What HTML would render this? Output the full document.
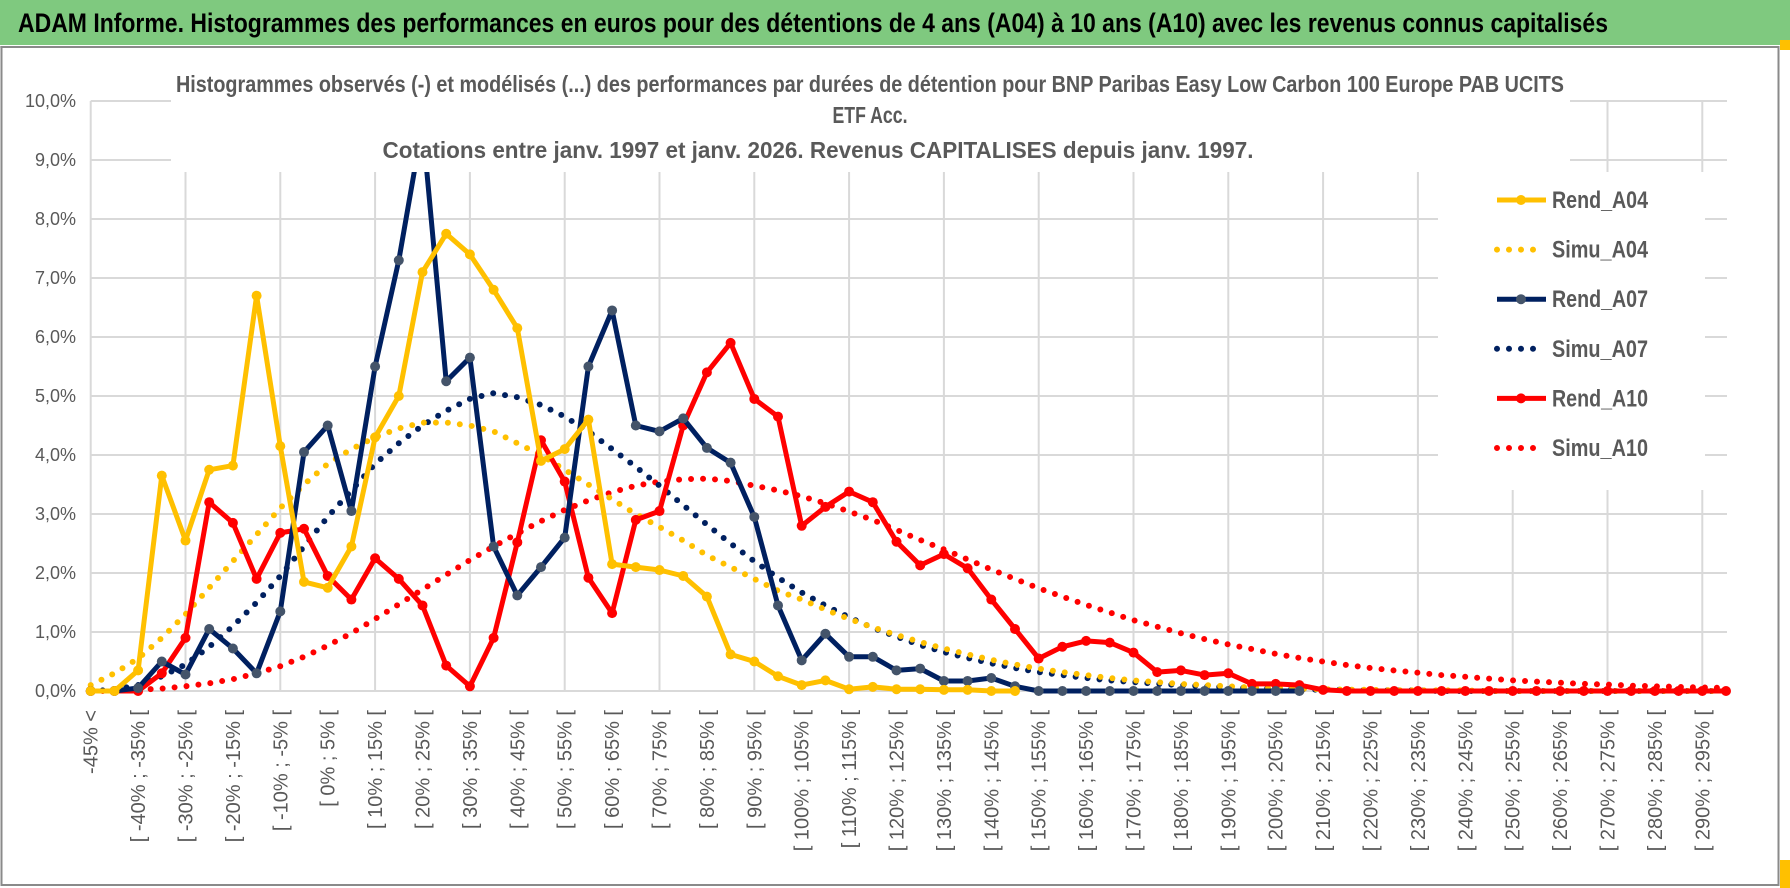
<!DOCTYPE html>
<html><head><meta charset="utf-8"><style>
html,body{margin:0;padding:0;background:#fff;}
svg{display:block;font-family:"Liberation Sans Narrow","Liberation Sans",sans-serif;}
</style></head><body>
<svg id="chart" width="1790" height="888" viewBox="0 0 1790 888" xmlns="http://www.w3.org/2000/svg">
<rect x="0" y="0" width="1790" height="888" fill="#fff"/>
<rect x="0" y="0" width="1790" height="45" fill="#7fc97f"/>
<text x="18" y="32" font-size="27" font-weight="bold" fill="#000" textLength="1590" lengthAdjust="spacingAndGlyphs">ADAM Informe. Histogrammes des performances en euros pour des détentions de 4 ans (A04) à 10 ans (A10) avec les revenus connus capitalisés</text>
<line x1="0" y1="47" x2="1778" y2="47" stroke="#d0d0d0" stroke-width="2"/>
<rect x="1.5" y="47" width="1777" height="838" fill="none" stroke="#8a8a8a" stroke-width="2"/>
<rect x="1780" y="860" width="10" height="28" fill="#ffc000"/>
<rect x="1780" y="40" width="10" height="10" fill="#ffc000"/>
<g id="grid"></g>
<g id="ylabels"></g>
<g id="xlabels"></g>
<g id="series"></g>
<rect x="171" y="52" width="1399" height="120" fill="#fff"/>
<g fill="#595959" font-weight="bold" font-size="23" text-anchor="middle">
<text x="870" y="92" textLength="1388" lengthAdjust="spacingAndGlyphs">Histogrammes observés (-) et modélisés (...) des performances par durées de détention pour BNP Paribas Easy Low Carbon 100 Europe PAB UCITS</text>
<text x="870" y="123" textLength="75" lengthAdjust="spacingAndGlyphs">ETF Acc.</text>
<text x="818" y="158" textLength="871" lengthAdjust="spacingAndGlyphs">Cotations entre janv. 1997 et janv. 2026. Revenus CAPITALISES depuis janv. 1997.</text>
</g>
<rect x="1438" y="172" width="267" height="318" fill="#fff"/>
<g id="legend"></g>
</svg>
<script>
const categories = ["-45% <"];
for (let v = -45; v < 300; v += 5) categories.push("[ " + v + "% ; " + (v + 5) + "% [");
const yTicks = ["0,0%","1,0%","2,0%","3,0%","4,0%","5,0%","6,0%","7,0%","8,0%","9,0%","10,0%"];
const rendA04 = [0,0,0.35,3.65,2.55,3.75,3.82,6.7,4.15,1.85,1.75,2.45,4.3,5.0,7.1,7.75,7.4,6.8,6.15,3.9,4.1,4.6,2.15,2.1,2.05,1.95,1.6,0.62,0.5,0.25,0.1,0.18,0.03,0.07,0.03,0.03,0.02,0.02,0,0];
const simuA04 = [0.1,0.3,0.55,0.9,1.3,1.75,2.2,2.65,3.1,3.5,3.85,4.1,4.3,4.45,4.55,4.55,4.5,4.4,4.2,4.0,3.75,3.5,3.25,3.0,2.78,2.55,2.3,2.1,1.9,1.7,1.55,1.38,1.22,1.08,0.95,0.83,0.72,0.62,0.53,0.45,0.38,0.32,0.27,0.22,0.18,0.15,0.12,0.1,0.08,0.06,0.05,0.04,0.03,0.02,0.02,0.01,0.01,0.01,0.01,0,0,0,0,0,0,0,0,0,0,0];
const rendA07 = [0,0,0.05,0.5,0.28,1.05,0.72,0.3,1.35,4.05,4.5,3.05,5.5,7.3,9.6,5.25,5.65,2.45,1.62,2.1,2.6,5.5,6.45,4.5,4.4,4.62,4.12,3.87,2.95,1.45,0.52,0.97,0.58,0.58,0.35,0.38,0.17,0.17,0.22,0.08,0,0,0,0,0,0,0,0,0,0,0,0];
const simuA07 = [0,0.02,0.1,0.25,0.45,0.75,1.1,1.5,1.95,2.45,2.95,3.4,3.85,4.2,4.5,4.75,4.95,5.05,4.98,4.85,4.65,4.4,4.1,3.8,3.48,3.15,2.82,2.5,2.2,1.92,1.67,1.45,1.25,1.07,0.92,0.78,0.66,0.56,0.47,0.39,0.32,0.27,0.22,0.18,0.15,0.12,0.1,0.08,0.06,0.05,0.04,0.03,0.02,0.02,0.01,0.01,0.01,0,0,0,0,0,0,0,0,0,0,0,0,0];
const rendA10 = [0,0,0,0.3,0.9,3.2,2.85,1.9,2.68,2.75,1.95,1.55,2.25,1.9,1.45,0.43,0.08,0.9,2.52,4.25,3.55,1.92,1.32,2.9,3.05,4.5,5.4,5.9,4.95,4.65,2.8,3.12,3.38,3.2,2.53,2.13,2.32,2.08,1.55,1.05,0.55,0.75,0.85,0.82,0.65,0.32,0.35,0.27,0.3,0.12,0.12,0.1,0.02,0,0,0,0,0,0,0,0,0,0,0,0,0,0,0,0,0];
const simuA10 = [0,0,0.02,0.04,0.08,0.13,0.2,0.3,0.42,0.58,0.77,0.98,1.22,1.47,1.72,1.97,2.22,2.45,2.67,2.88,3.07,3.23,3.37,3.48,3.55,3.59,3.6,3.56,3.48,3.4,3.3,3.18,3.04,2.9,2.73,2.56,2.4,2.23,2.06,1.9,1.74,1.6,1.46,1.33,1.2,1.09,0.98,0.88,0.79,0.71,0.63,0.56,0.5,0.44,0.39,0.35,0.31,0.27,0.24,0.21,0.18,0.16,0.14,0.12,0.11,0.09,0.08,0.07,0.06,0.05];

const NS = "http://www.w3.org/2000/svg";
const X0 = 90.7, DX = 23.7, Y0 = 691, YPER = 59;
const xScale = i => X0 + i * DX;
const yScale = v => Y0 - v * YPER;
function mk(tag, parent, attrs) {
  const e = document.createElementNS(NS, tag);
  for (const k in attrs) e.setAttribute(k, attrs[k]);
  parent.appendChild(e);
  return e;
}
const grid = document.getElementById("grid");
const right = xScale(categories.length - 1);
yTicks.forEach((t, k) => {
  const y = yScale(k);
  const l = mk("line", grid, {x1: X0, x2: right + 1, y1: y, y2: y, stroke: "#d9d9d9", "stroke-width": 2});
  
  
  const tx = mk("text", document.getElementById("ylabels"), {x: 76, y: y + 6, "text-anchor": "end", "font-size": 18, fill: "#595959"});
  tx.textContent = t;
  
  
});
for (let i = 0; i < categories.length; i += 4) {
  const l = mk("line", grid, {x1: xScale(i), x2: xScale(i), y1: yScale(10), y2: Y0, stroke: "#d9d9d9", "stroke-width": 2});
  
  
}
const xl = document.getElementById("xlabels");
categories.forEach((c, i) => {
  if (i % 2) return;
  const x = xScale(i) + 7;
  const t = mk("text", xl, {x: 0, y: 0, transform: `translate(${x},710) rotate(-90)`, "text-anchor": "end", "font-size": 20, fill: "#595959", "font-family": "Liberation Sans, sans-serif"});
  t.textContent = c;
  
  
});
const sg = document.getElementById("series");
function drawLine(vals, color, dotted, marker, name) {
  const pts = vals.map((v, i) => xScale(i).toFixed(1) + "," + yScale(v).toFixed(1)).join(" ");
  const p = mk("polyline", sg, dotted ?
    {points: pts, fill: "none", stroke: color, "stroke-width": 6, "stroke-linecap": "round", "stroke-dasharray": "0 12"} :
    {points: pts, fill: "none", stroke: color, "stroke-width": 5, "stroke-linejoin": "round"});
  
  
  if (!dotted) vals.forEach((v, i) => {
    const c = mk("circle", sg, {cx: xScale(i), cy: yScale(v), r: 5, fill: marker});
    
    
  });
}
drawLine(simuA10, "#ff0000", true, null, "simu-a10-line");
drawLine(simuA07, "#002060", true, null, "simu-a07-line");
drawLine(simuA04, "#ffc000", true, null, "simu-a04-line");
drawLine(rendA10, "#ff0000", false, "#ff0000", "rend-a10-line");
drawLine(rendA07, "#002060", false, "#44546a", "rend-a07-line");
drawLine(rendA04, "#ffc000", false, "#ffc000", "rend-a04-line");

const lg = document.getElementById("legend");
const legendItems = [["Rend_A04","#ffc000",false,"#ffc000"],["Simu_A04","#ffc000",true],["Rend_A07","#002060",false,"#44546a"],["Simu_A07","#002060",true],["Rend_A10","#ff0000",false,"#ff0000"],["Simu_A10","#ff0000",true]];
legendItems.forEach((it, k) => {
  const y = 200 + k * 49.6;
  const g = mk("g", lg, {});
  
  
  if (it[2]) mk("line", g, {x1: 1497, x2: 1545, y1: y, y2: y, stroke: it[1], "stroke-width": 6, "stroke-linecap": "round", "stroke-dasharray": "0 12"});
  else { mk("line", g, {x1: 1497, x2: 1546, y1: y, y2: y, stroke: it[1], "stroke-width": 5}); mk("circle", g, {cx: 1521, cy: y, r: 5, fill: it[3]}); }
  const t = mk("text", g, {x: 1552, y: y + 8, "font-size": 24, "font-weight": "bold", fill: "#595959", textLength: 96, lengthAdjust: "spacingAndGlyphs"});
  t.textContent = it[0];
});
</script>
</body></html>
